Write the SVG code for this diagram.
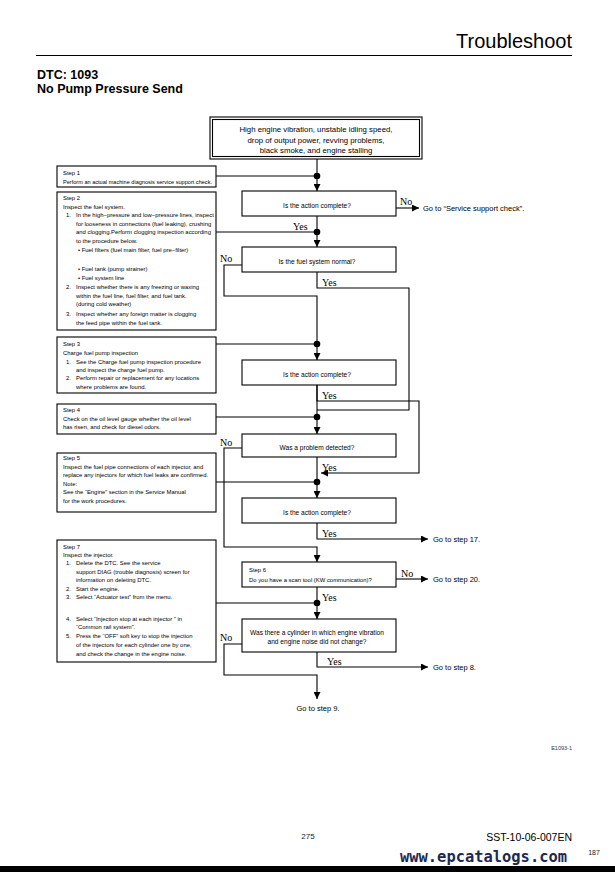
<svg xmlns="http://www.w3.org/2000/svg" width="615" height="872" viewBox="0 0 615 872">
<defs>
<marker id="ah" markerUnits="userSpaceOnUse" markerWidth="8" markerHeight="7" refX="7" refY="3.5" orient="auto">
<path d="M0,0 L7,3.5 L0,7 z" fill="#000"/>
</marker>
<style>
.box{fill:#fff;stroke:#000;stroke-width:1.1}
.w{fill:none;stroke:#000;stroke-width:1.1}
.a{marker-end:url(#ah)}
.dot{fill:#000}
.s{font-family:"Liberation Sans",Arial,sans-serif;font-size:5.9px;fill:#000}
.d{font-family:"Liberation Sans",Arial,sans-serif;font-size:6.6px;fill:#000;text-anchor:middle}
.t{font-family:"Liberation Sans",Arial,sans-serif;font-size:7.8px;fill:#000;text-anchor:middle}
.g{font-family:"Liberation Sans",Arial,sans-serif;font-size:7.5px;fill:#000}
.yn{font-family:"Liberation Serif","Times New Roman",serif;font-size:10px;fill:#000}
</style>
</defs>
<rect width="615" height="872" fill="#fff"/>

<!-- header -->
<g id="header">
<text x="572" y="48" font-family="Liberation Sans,Arial,sans-serif" font-size="20" text-anchor="end">Troubleshoot</text>
<line x1="36" y1="55.5" x2="572" y2="55.5" stroke="#000" stroke-width="1.2"/>
<text x="37" y="78.5" font-family="Liberation Sans,Arial,sans-serif" font-size="12.5" font-weight="bold">DTC: 1093</text>
<text x="37" y="93" font-family="Liberation Sans,Arial,sans-serif" font-size="12.5" font-weight="bold">No Pump Pressure Send</text>
</g>

<!-- connectors -->
<g id="connectors">
<line class="w a" x1="317" y1="159" x2="317" y2="191"/>
<line class="w" x1="216" y1="176" x2="317" y2="176"/>
<line class="w a" x1="396" y1="208" x2="419" y2="208"/>
<line class="w a" x1="317" y1="216" x2="317" y2="247"/>
<line class="w" x1="216" y1="232" x2="317" y2="232"/>
<polyline class="w a" points="242,265 224,265 224,296 317,296 317,360"/>
<line class="w" x1="216" y1="344" x2="317" y2="344"/>
<polyline class="w" points="317,272 317,288 409,288 409,410 317,410"/>
<line class="w a" x1="317" y1="385" x2="317" y2="434"/>
<line class="w" x1="216" y1="417" x2="317" y2="417"/>
<polyline class="w a" points="317,385 317,401 419,401 419,473 321,473"/>
<line class="w a" x1="317" y1="457" x2="317" y2="498"/>
<line class="w" x1="216" y1="482" x2="317" y2="482"/>
<polyline class="w a" points="242,448 224,448 224,547 317,547 317,562"/>
<polyline class="w a" points="317,523 317,539 428,539"/>
<line class="w a" x1="396" y1="579" x2="428" y2="579"/>
<line class="w a" x1="317" y1="587" x2="317" y2="619"/>
<line class="w" x1="216" y1="603" x2="317" y2="603"/>
<polyline class="w a" points="317,652 317,667 428,667"/>
<polyline class="w a" points="242,644 224,644 224,675 317,675 317,699"/>
<circle class="dot" cx="317" cy="176" r="3.3"/>
<circle class="dot" cx="317" cy="232" r="3.3"/>
<circle class="dot" cx="317" cy="344" r="3.3"/>
<circle class="dot" cx="317" cy="417" r="3.3"/>
<circle class="dot" cx="317" cy="482" r="3.3"/>
<circle class="dot" cx="317" cy="603" r="3.3"/>
<text class="yn" x="400" y="205">No</text>
<text class="yn" x="293" y="229.5">Yes</text>
<text class="yn" x="220" y="262">No</text>
<text class="yn" x="322" y="286">Yes</text>
<text class="yn" x="322" y="399">Yes</text>
<text class="yn" x="220" y="446">No</text>
<text class="yn" x="322" y="471">Yes</text>
<text class="yn" x="322" y="537">Yes</text>
<text class="yn" x="401" y="577">No</text>
<text class="yn" x="322" y="601">Yes</text>
<text class="yn" x="220" y="641">No</text>
<text class="yn" x="327" y="665">Yes</text>
</g>

<!-- start -->
<g id="start">
<rect class="box" x="210" y="117" width="212" height="42"/>
<rect class="box" x="212.5" y="119.5" width="207" height="37"/>
<text class="t" x="316" y="131.5">High engine vibration, unstable idling speed,</text>
<text class="t" x="316" y="142.5">drop of output power, revving problems,</text>
<text class="t" x="316" y="153">black smoke, and engine stalling</text>
</g>

<g id="step1">
<rect class="box" x="57" y="166" width="159" height="21"/>
<text class="s" x="63" y="175">Step 1</text>
<text class="s" x="63" y="184" textLength="149" lengthAdjust="spacingAndGlyphs">Perform an actual machine diagnosis service support check.</text>
</g>

<g id="step2">
<rect class="box" x="57" y="192" width="159" height="138"/>
<text class="s" x="63" y="200">Step 2</text>
<text class="s" x="63" y="209">Inspect the fuel system.</text>
<text class="s" x="66" y="217">1.</text><text class="s" x="76" y="217">In the high−pressure and low−pressure lines, inspect</text>
<text class="s" x="76" y="226">for looseness in connections (fuel leaking), crushing</text>
<text class="s" x="76" y="234">and clogging.Perform clogging inspection according</text>
<text class="s" x="76" y="243">to the procedure below.</text>
<text class="s" x="78" y="252">• Fuel filters (fuel main filter, fuel pre−filter)</text>
<text class="s" x="78" y="271">• Fuel tank (pump strainer)</text>
<text class="s" x="78" y="280">• Fuel system line</text>
<text class="s" x="66" y="289">2.</text><text class="s" x="76" y="289">Inspect whether there is any freezing or waxing</text>
<text class="s" x="76" y="298">within the fuel line, fuel filter, and fuel tank.</text>
<text class="s" x="76" y="306">(during cold weather)</text>
<text class="s" x="66" y="316">3.</text><text class="s" x="76" y="316">Inspect whether any foreign matter is clogging</text>
<text class="s" x="76" y="325">the feed pipe within the fuel tank.</text>
</g>

<g id="step3">
<rect class="box" x="57" y="337" width="159" height="56"/>
<text class="s" x="63" y="346">Step 3</text>
<text class="s" x="63" y="355">Charge fuel pump inspection</text>
<text class="s" x="66" y="363.5">1.</text><text class="s" x="76" y="363.5">See the Charge fuel pump inspection procedure</text>
<text class="s" x="76" y="371.5">and inspect the charge fuel pump.</text>
<text class="s" x="66" y="380">2.</text><text class="s" x="76" y="380">Perform repair or replacement for any locations</text>
<text class="s" x="76" y="388.5">where problems are found.</text>
</g>

<g id="step4">
<rect class="box" x="57" y="404" width="159" height="30"/>
<text class="s" x="63" y="412">Step 4</text>
<text class="s" x="63" y="420.5">Check on the oil level gauge whether the oil level</text>
<text class="s" x="63" y="429">has risen, and check for diesel odors.</text>
</g>

<g id="step5">
<rect class="box" x="57" y="453" width="159" height="59"/>
<text class="s" x="63" y="460">Step 5</text>
<text class="s" x="63" y="468.5">Inspect the fuel pipe connections of each injector, and</text>
<text class="s" x="63" y="477">replace any injectors for which fuel leaks are confirmed.</text>
<text class="s" x="63" y="485.5">Note:</text>
<text class="s" x="63" y="494">See the “Engine” section in the Service Manual</text>
<text class="s" x="63" y="502.5">for the work procedures.</text>
</g>

<g id="step7">
<rect class="box" x="57" y="540" width="159" height="122"/>
<text class="s" x="63" y="549">Step 7</text>
<text class="s" x="63" y="557">Inspect the injector.</text>
<text class="s" x="66" y="565">1.</text><text class="s" x="76" y="565">Delete the DTC. See the service</text>
<text class="s" x="76" y="574">support DIAG (trouble diagnosis) screen for</text>
<text class="s" x="76" y="582">information on deleting DTC.</text>
<text class="s" x="66" y="591">2.</text><text class="s" x="76" y="591">Start the engine.</text>
<text class="s" x="66" y="599">3.</text><text class="s" x="76" y="599">Select “Actuator test” from the menu.</text>
<text class="s" x="66" y="621">4.</text><text class="s" x="76" y="621">Select “Injection stop at each injector ” in</text>
<text class="s" x="76" y="629">“Common rail system”.</text>
<text class="s" x="66" y="638">5.</text><text class="s" x="76" y="638">Press the “OFF” soft key to stop the injection</text>
<text class="s" x="76" y="647">of the injectors for each cylinder one by one,</text>
<text class="s" x="76" y="656">and check the change in the engine noise.</text>
</g>

<g id="q1">
<rect class="box" x="242" y="191" width="154" height="25"/>
<text class="d" x="317" y="208">Is the action complete?</text>
</g>
<g id="q2">
<rect class="box" x="242" y="247" width="154" height="25"/>
<text class="d" x="317" y="264">Is the fuel system normal?</text>
</g>
<g id="q3">
<rect class="box" x="242" y="360" width="154" height="25"/>
<text class="d" x="317" y="377">Is the action complete?</text>
</g>
<g id="q4">
<rect class="box" x="242" y="434" width="154" height="23"/>
<text class="d" x="317" y="450">Was a problem detected?</text>
</g>
<g id="q5">
<rect class="box" x="242" y="498" width="154" height="25"/>
<text class="d" x="317" y="515">Is the action complete?</text>
</g>
<g id="step6">
<rect class="box" x="242" y="562" width="154" height="25"/>
<text class="s" x="249" y="572">Step 6</text>
<text class="s" x="249" y="581.5">Do you have a scan tool (KW communication)?</text>
</g>
<g id="q7">
<rect class="box" x="242" y="619" width="154" height="33"/>
<text class="d" x="317" y="634.5">Was there a cylinder in which engine vibration</text>
<text class="d" x="317" y="643.5">and engine noise did not change?</text>
</g>

<g id="ends">
<text class="g" x="423" y="210.5">Go to “Service support check”.</text>
<text class="g" x="433" y="541.5">Go to step 17.</text>
<text class="g" x="433" y="581.5">Go to step 20.</text>
<text class="g" x="433" y="669.5">Go to step 8.</text>
<text class="g" x="318" y="711" text-anchor="middle">Go to step 9.</text>
</g>

<g id="footer">
<text x="572" y="750" font-family="Liberation Sans,Arial,sans-serif" font-size="5.5" text-anchor="end" fill="#333">E1093-1</text>
<text x="308" y="839" font-family="Liberation Sans,Arial,sans-serif" font-size="8" text-anchor="middle" fill="#222">275</text>
<text x="572" y="841" font-family="Liberation Sans,Arial,sans-serif" font-size="10.5" text-anchor="end">SST-10-06-007EN</text>
<text x="400" y="862" font-family="DejaVu Sans Mono,Liberation Mono,monospace" font-size="15.5" font-weight="bold" fill="#1c2a52" textLength="167" lengthAdjust="spacingAndGlyphs">www.epcatalogs.com</text>
<text x="594" y="855" font-family="Liberation Sans,Arial,sans-serif" font-size="7" text-anchor="middle" fill="#222">187</text>
<rect x="0" y="866" width="615" height="6" fill="#000"/>
</g>
</svg>
